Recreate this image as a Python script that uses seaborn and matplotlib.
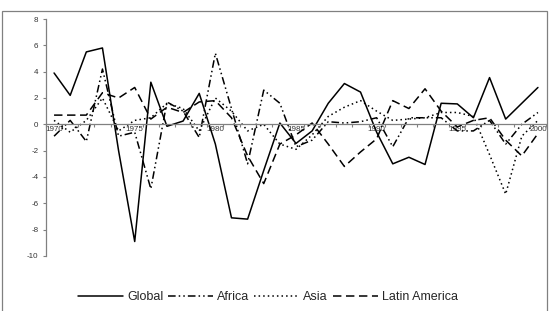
import matplotlib
matplotlib.use("Agg")
import matplotlib.pyplot as plt
from matplotlib.patches import Rectangle
from matplotlib.ticker import FixedLocator
import seaborn as sns
import pandas as pd

years = list(range(1970, 2001))

global_vals = [3.9, 2.2, 5.5, 5.8, -2.0, -8.9, 3.2, -0.15, 0.25, 2.35,
               -1.5, -7.1, -7.2, -3.5, 0.1, -1.45, -0.5, 1.6, 3.1, 2.45,
               -0.6, -3.0, -2.5, -3.05, 1.6, 1.55, 0.5, 3.55, 0.4, 1.6, 2.8]
africa_vals = [-0.9, 0.3, -1.3, 4.2, -0.9, -0.6, -4.9, 1.7, 1.0, -1.0,
               5.4, 1.2, -3.0, 2.6, 1.6, -1.7, -1.2, 0.2, 0.1, 0.2,
               0.5, -1.7, 0.5, 0.5, 0.5, -0.5, -0.5, 0.3, -1.5, 0.0, 0.9]
asia_vals = [0.3, -0.6, 0.3, 2.0, -0.5, 0.3, 0.5, 1.6, 1.2, -0.5,
             2.0, 1.0, -0.5, 0.0, -1.5, -1.9, -0.8, 0.6, 1.3, 1.8,
             1.0, 0.3, 0.4, 0.5, 0.9, 0.9, 0.6, -2.3, -5.3, -0.9, 0.3]
latin_vals = [0.7, 0.7, 0.7, 2.4, 2.0, 2.8, 0.4, 1.3, 0.9, 1.7,
              1.8, 0.5, -2.4, -4.5, -1.5, -0.8, 0.1, -1.5, -3.2, -2.1,
              -1.1, 1.8, 1.2, 2.7, 1.0, -0.2, 0.3, 0.5, -1.2, -2.4, -0.7]

series_names = ["Global", "Africa", "Asia", "Latin America"]
y_ticks = [-10, -8, -6, -4, -2, 0, 2, 4, 6, 8]
x_label_years = [1970, 1975, 1980, 1985, 1990, 1995, 2000]

df = pd.DataFrame({"year": years, "Global": global_vals, "Africa": africa_vals,
                   "Asia": asia_vals, "Latin America": latin_vals})

sns.set_style("white")
plt.rcParams["font.family"] = ["Liberation Sans", "DejaVu Sans"]
plt.rcParams["axes.unicode_minus"] = False

fig = plt.figure(figsize=(5.51, 3.11), dpi=100)
ax = fig.add_axes([46 / 551, 1 - 256 / 311, 500 / 551, (256 - 19) / 311])

styles = {"Global": "-",
          "Africa": (0, (5, 2, 1, 2, 1, 2)),
          "Asia": (0, (1, 2)),
          "Latin America": (0, (5.5, 3))}

for name in series_names:
    sns.lineplot(data=df, x="year", y=name, ax=ax, color="black",
                 linewidth=1.1, linestyle=styles[name], label=name, legend=False)

ax.set_xlim(1969.5, 2000.5)
ax.set_ylim(-10, 8)
ax.set_xlabel("")
ax.set_ylabel("")

axis_col = "#808080"
for s in ["top", "right"]:
    ax.spines[s].set_visible(False)
ax.spines["left"].set_color(axis_col)
ax.spines["bottom"].set_color(axis_col)
ax.spines["left"].set_linewidth(0.9)
ax.spines["bottom"].set_linewidth(0.9)
ax.spines["bottom"].set_position(("data", 0))

ax.set_yticks(y_ticks)
ax.set_yticklabels([str(v) for v in y_ticks])
ax.set_xticks(x_label_years)
ax.set_xticklabels([str(v) for v in x_label_years])
ax.xaxis.set_minor_locator(FixedLocator([y - 0.5 for y in years] + [2000.5]))
ax.tick_params(axis="y", direction="out", length=2.5, width=0.8, color=axis_col,
               labelsize=5.8, labelcolor="#333333", pad=3, left=True)
ax.tick_params(axis="x", which="major", length=0, labelsize=5.8,
               labelcolor="#333333", pad=1.5, bottom=True)
ax.tick_params(axis="x", which="minor", direction="out", length=2.5, width=0.8,
               color=axis_col, bottom=True)

handles, labels = ax.get_legend_handles_labels()
fig.legend(handles, labels, loc="center", bbox_to_anchor=(268 / 551, 14 / 311),
           ncol=4, frameon=False, handlelength=3.6, handletextpad=0.3,
           columnspacing=0.4, fontsize=9)

fig.add_artist(Rectangle((2 / 551, -0.01), 545 / 551, 1 - 11 / 311 + 0.01,
                         transform=fig.transFigure, fill=False,
                         edgecolor=axis_col, linewidth=0.9))

fig.savefig("out.png", dpi=100)
